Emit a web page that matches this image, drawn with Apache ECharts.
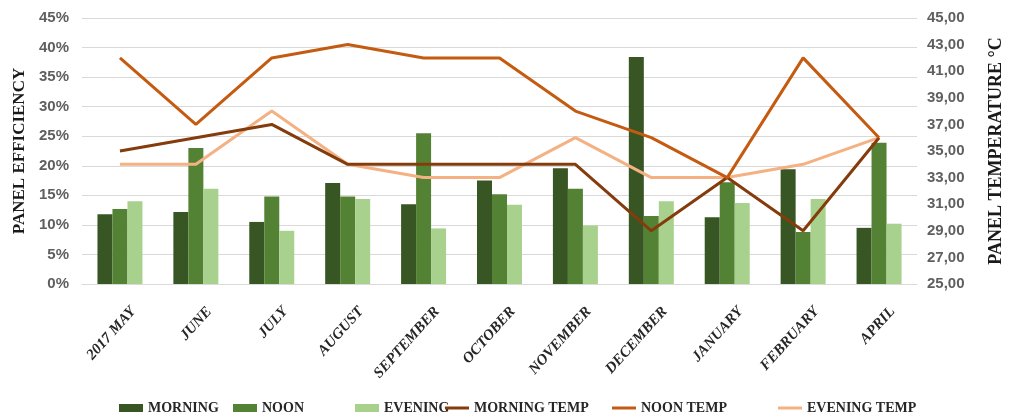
<!DOCTYPE html>
<html>
<head>
<meta charset="utf-8">
<script src="https://cdn.jsdelivr.net/npm/echarts@6/dist/echarts.min.js"></script>
<style>html,body{margin:0;padding:0;background:#fff;}#c{width:1013px;height:417px;}</style>
</head>
<body>
<div id="c"></div>
<script>
var categories = ['2017 MAY','JUNE','JULY','AUGUST','SEPTEMBER','OCTOBER','NOVEMBER','DECEMBER','JANUARY','FEBRUARY','APRIL'];
var morning = [11.8,12.2,10.5,17.1,13.5,17.5,19.6,38.4,11.3,19.4,9.5];
var noon = [12.7,23.0,14.8,14.8,25.5,15.2,16.1,11.5,17.2,8.8,23.9];
var evening = [14.0,16.1,9.0,14.4,9.4,13.4,9.9,14.0,13.7,14.4,10.2];
var morningTemp = [35,36,37,34,34,34,34,29,33,29,36];
var noonTemp = [42,37,42,43,42,42,38,36,33,42,36];
var eveningTemp = [34,34,38,34,33,33,36,33,33,34,36];

var C = {
  morning:'#375623', noon:'#548235', evening:'#A9D18E',
  mt:'#843C0C', nt:'#C55A11', et:'#F4B183'
};
var serif = '"Liberation Serif","Times New Roman",serif';
var sans = '"Liberation Sans",Arial,sans-serif';

function leg(name, left, isLine){
  return {
    data:[{name:name, icon:'rect'}],
    left:left, top:401, padding:0,
    itemWidth:24, itemHeight:isLine?3:8, itemGap:0,
    textStyle:{fontFamily:serif, fontWeight:'bold', fontSize:14, color:'#262626'},
    selectedMode:false
  };
}

var chart = echarts.init(document.getElementById('c'), null, {renderer:'canvas'});
chart.setOption({
  animation:false,
  backgroundColor:'#fff',
  grid:{left:82, right:86, top:18, bottom:133},
  legend:[
    leg('MORNING',119,false),
    leg('NOON',233,false),
    leg('EVENING',355,false),
    leg('MORNING TEMP',445,true),
    leg('NOON TEMP',612,true),
    leg('EVENING TEMP',778,true)
  ],
  xAxis:{
    type:'category', data:categories, boundaryGap:true,
    axisLine:{show:true, lineStyle:{color:'#d9d9d9', width:1}},
    axisTick:{show:false},
    axisLabel:{
      interval:0, rotate:48, margin:40, padding:[0,-20,0,0],
      fontFamily:serif, fontWeight:'bold', fontStyle:'italic', fontSize:15, color:'#262626'
    }
  },
  yAxis:[
    {
      type:'value', min:0, max:45, interval:5,
      name:'PANEL EFFICIENCY', nameLocation:'middle', nameGap:53, nameRotate:90,
      nameTextStyle:{fontFamily:serif, fontWeight:'bold', fontSize:17, color:'#1a1a1a'},
      axisLine:{show:false}, axisTick:{show:false},
      axisLabel:{formatter:'{value}%', margin:13, fontFamily:sans, fontWeight:'bold', fontSize:15, color:'#5f5f5f'},
      splitLine:{show:true, lineStyle:{color:'#d9d9d9', width:1}}
    },
    {
      type:'value', min:25, max:45, interval:2, position:'right',
      name:'PANEL TEMPERATURE °C', nameLocation:'middle', nameGap:70, nameRotate:90,
      nameTextStyle:{fontFamily:serif, fontWeight:'bold', fontSize:18, color:'#1a1a1a'},
      axisLine:{show:false}, axisTick:{show:false},
      axisLabel:{formatter:function(v){return v.toFixed(2).replace('.',',');}, margin:10, fontFamily:sans, fontWeight:'bold', fontSize:15, color:'#5f5f5f'},
      splitLine:{show:false}
    }
  ],
  series:[
    {name:'MORNING', type:'bar', data:morning, barWidth:15, barGap:'0%', itemStyle:{color:C.morning}},
    {name:'NOON', type:'bar', data:noon, barWidth:15, barGap:'0%', itemStyle:{color:C.noon}},
    {name:'EVENING', type:'bar', data:evening, barWidth:15, barGap:'0%', itemStyle:{color:C.evening}},
    {name:'MORNING TEMP', type:'line', yAxisIndex:1, data:morningTemp, symbol:'none', lineStyle:{color:C.mt, width:3}, itemStyle:{color:C.mt}, z:4},
    {name:'NOON TEMP', type:'line', yAxisIndex:1, data:noonTemp, symbol:'none', lineStyle:{color:C.nt, width:3}, itemStyle:{color:C.nt}, z:4},
    {name:'EVENING TEMP', type:'line', yAxisIndex:1, data:eveningTemp, symbol:'none', lineStyle:{color:C.et, width:3}, itemStyle:{color:C.et}, z:3}
  ]
});
</script>
</body>
</html>
